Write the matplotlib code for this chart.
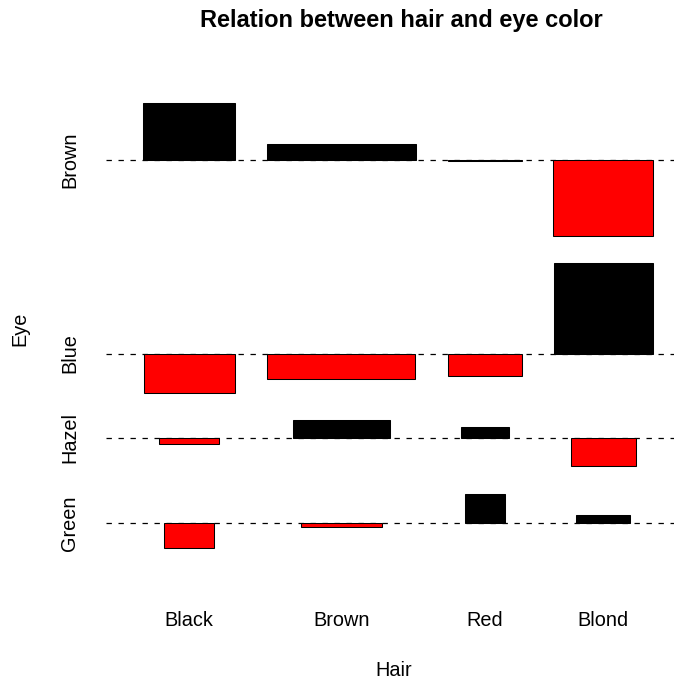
import numpy as np
import matplotlib
matplotlib.use("Agg")
import matplotlib.pyplot as plt
from matplotlib.patches import Rectangle
from matplotlib.transforms import blended_transform_factory

plt.rcParams['font.family'] = ['Liberation Sans', 'DejaVu Sans']

# HairEyeColor counts summed over sex (rows: hair, cols: eye)
hair = ["Black", "Brown", "Red", "Blond"]
eye = ["Brown", "Blue", "Hazel", "Green"]
counts = np.array([
    [68, 20, 15, 5],
    [119, 84, 54, 29],
    [26, 17, 14, 14],
    [7, 94, 10, 16],
], dtype=float)

# same layout as R's assocplot (eye reversed so Green is at the bottom)
f = counts[:, ::-1]
eye_rev = eye[::-1]
e = np.outer(f.sum(1), f.sum(0)) / f.sum()
d = (f - e) / np.sqrt(e)
w = np.sqrt(e)
space = 0.3
x_w = w.max(1)
y_h = d.max(0) - d.min(0)
x_delta = x_w.mean() * space
y_delta = y_h.mean() * space
xlim = (0, x_w.sum() + len(hair) * x_delta)
ylim = (0, y_h.sum() + len(eye) * y_delta)
x_r = np.cumsum(x_w + x_delta)
x_m = (np.concatenate([[0], x_r[:-1]]) + x_r) / 2
y_u = np.cumsum(y_h + y_delta)
y_m = y_u - np.maximum(d, 0).max(0) - y_delta / 2

W, H = 674, 680
fig = plt.figure(figsize=(W / 100, H / 100), dpi=100)
ax = fig.add_axes([106 / W, 1 - 580.7 / H, 584.5 / W, 509.7 / H])
for i in range(len(hair)):
    for j in range(len(eye_rev)):
        col = "red" if d[i, j] < 0 else "black"
        ax.add_patch(Rectangle((x_m[i] - w[i, j] / 2, y_m[j]), w[i, j], d[i, j],
                               facecolor=col, edgecolor="black", linewidth=0.75))
for y in y_m:
    ax.axhline(y, color="black", linestyle=(0, (4.3, 5.3)), linewidth=0.9, zorder=0)

px = (xlim[1] - xlim[0]) * 0.04
py = (ylim[1] - ylim[0]) * 0.04
ax.set_xlim(xlim[0] - px, xlim[1] + px)
ax.set_ylim(ylim[0] - py, ylim[1] + py)
ax.axis("off")

tx = blended_transform_factory(ax.transData, fig.transFigure)
ty = blended_transform_factory(fig.transFigure, ax.transData)
for xm, lab in zip(x_m, hair):
    ax.text(xm, 1 - 621 / H, lab, transform=tx, fontsize=14.3, ha="center", va="center")
for ym, lab in zip(y_m, eye_rev):
    ax.text(69.5 / W, ym, lab, transform=ty, fontsize=14.3, ha="center", va="center",
            rotation=90)

fig.text(394 / W, 1 - 671 / H, "Hair", fontsize=14.3, ha="center", va="center")
fig.text(20 / W, 1 - 329 / H, "Eye", fontsize=14.3, ha="center", va="center", rotation=90)
fig.text(401 / W, 1 - 20 / H, "Relation between hair and eye color",
         fontsize=17, fontweight="bold", ha="center", va="center")

fig.savefig("out.png", dpi=100)
